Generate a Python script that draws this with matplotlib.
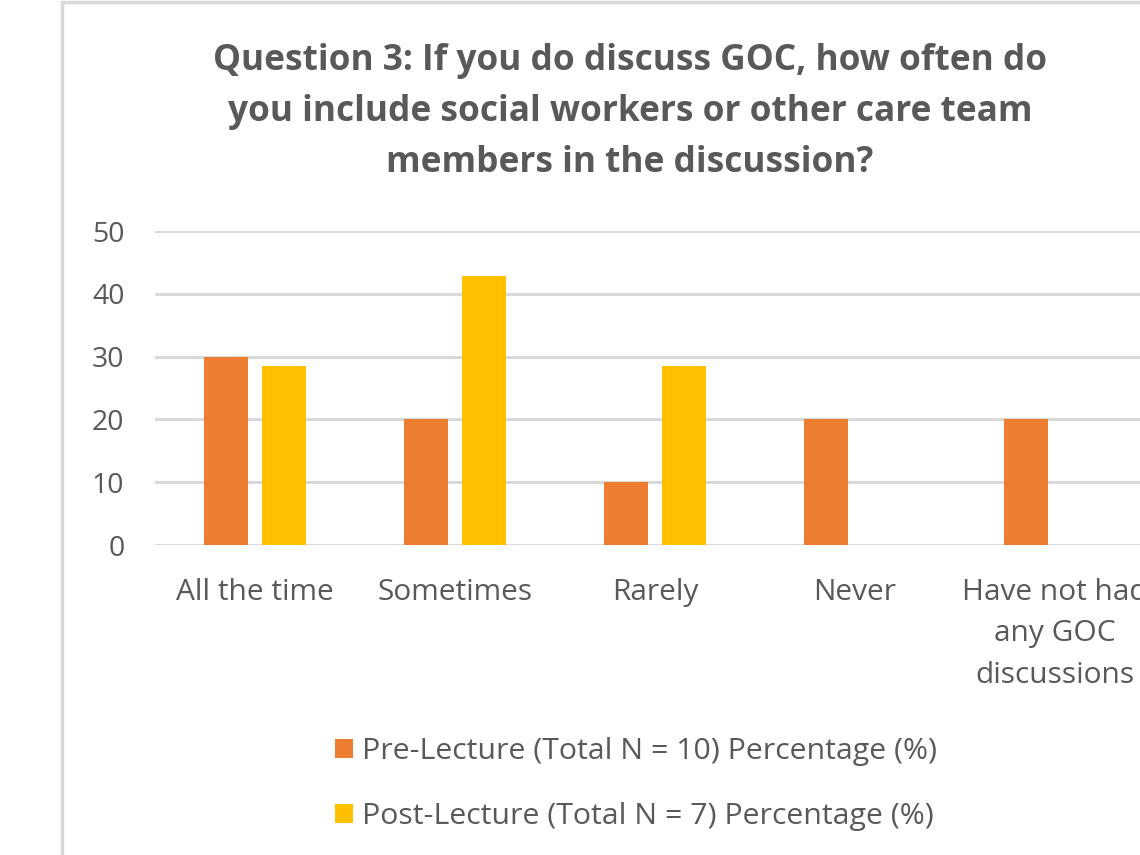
import matplotlib
matplotlib.use("Agg")
import matplotlib.pyplot as plt
from matplotlib.patches import Rectangle
import numpy as np

categories = ["All the time", "Sometimes", "Rarely", "Never", "Have not had\nany GOC\ndiscussions"]
pre_values = [30, 20, 10, 20, 20]
post_values = [28.57, 42.86, 28.57, 0, 0]
series_labels = ["Pre-Lecture (Total N = 10) Percentage (%)", "Post-Lecture (Total N = 7) Percentage (%)"]
title = "Question 3: If you do discuss GOC, how often do\nyou include social workers or other care team\nmembers in the discussion?"
yticks = [0, 10, 20, 30, 40, 50]

plt.rcParams['font.family'] = ['Open Sans', 'DejaVu Sans']
TXT = "#595959"
GRID = "#d9d9d9"
ORANGE = "#ed7d31"
YELLOW = "#ffc000"

W, H = 1140, 855
fig = plt.figure(figsize=(W/100, H/100), dpi=100)

# chart border (cropped)
fig.patches.append(Rectangle((62/W, -0.1), 1.2, (1 - 2/H) + 0.1, transform=fig.transFigure,
                             fill=False, edgecolor=GRID, linewidth=2.5))

x0, x1 = 155, 1155
y0, y1 = 545, 231
ax = fig.add_axes([x0/W, 1 - y0/H, (x1 - x0)/W, (y0 - y1)/H])
ax.set_xlim(-0.5, 4.5)
ax.set_ylim(0, 50)

x = np.arange(len(categories))
bw = 0.22
off = 0.145
ax.bar(x - off, pre_values, bw, color=ORANGE, label=series_labels[0], zorder=3)
ax.bar(x + off, post_values, bw, color=YELLOW, label=series_labels[1], zorder=3)

ax.set_yticks(yticks)
ax.yaxis.grid(True, color=GRID, linewidth=2.2, zorder=0)
ax.set_axisbelow(True)
for s in ax.spines.values():
    s.set_visible(False)
ax.tick_params(axis='y', length=0, labelsize=20.5, labelcolor=TXT, pad=22)
ax.tick_params(axis='x', length=0, labelsize=21.5, labelcolor=TXT, pad=24)
ax.set_xticks(x)
ax.set_xticklabels(categories, linespacing=1.55)

fig.text(630/W, 1 - 112/H, title, ha='center', va='center', fontsize=25.4, fontweight='bold',
         color=TXT, linespacing=1.55)

leg = fig.legend(loc='center left', bbox_to_anchor=(320/W, 1 - 784/H), ncol=1, frameon=False,
                 fontsize=21.8, labelcolor=TXT, handlelength=0.6, handleheight=0.6,
                 handletextpad=0.3, labelspacing=1.2, borderpad=0)

fig.savefig("out.png", dpi=100)
